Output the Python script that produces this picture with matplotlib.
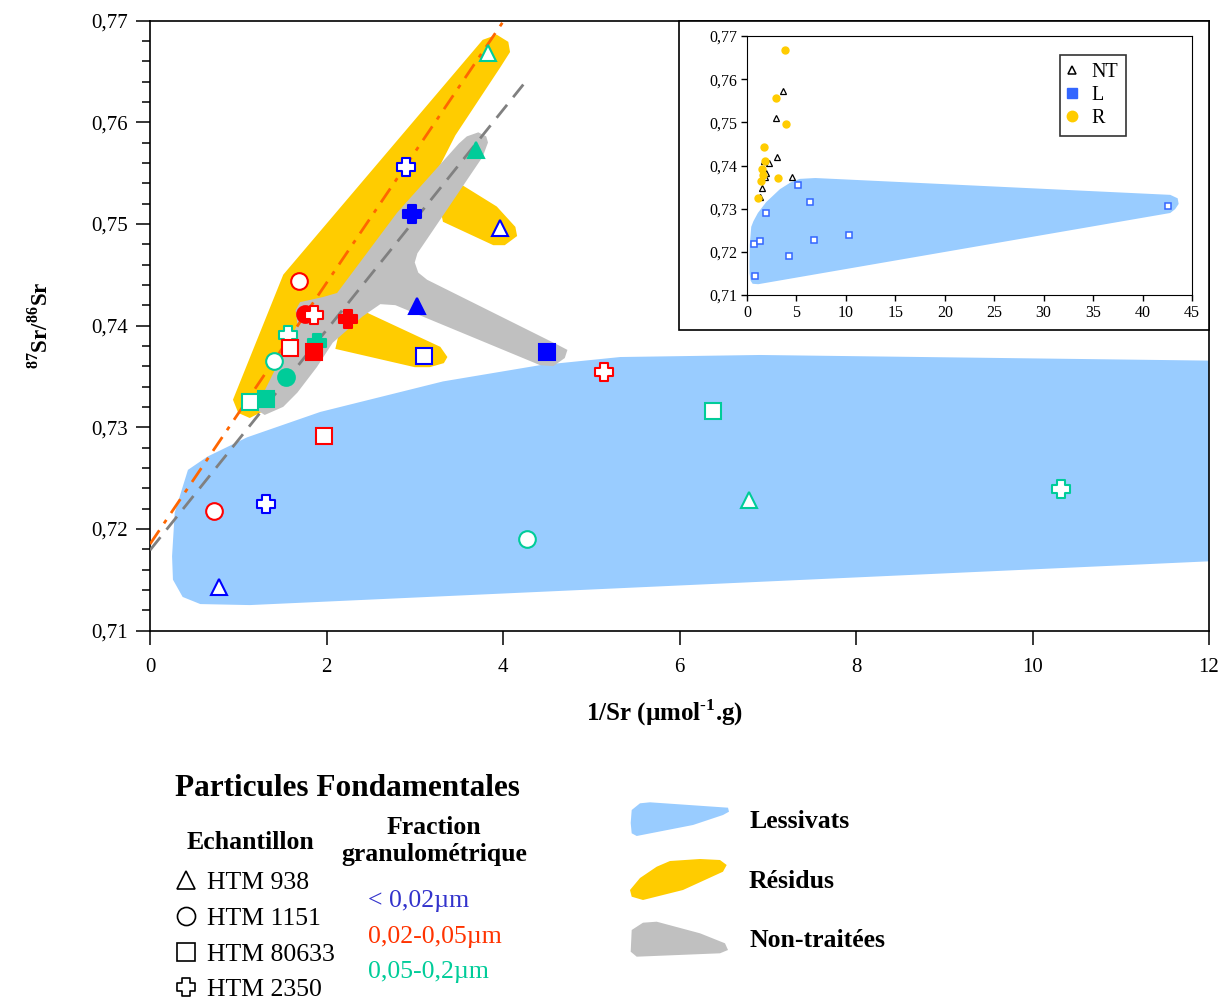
import numpy as np
import matplotlib
matplotlib.use('Agg')
import matplotlib.pyplot as plt
from matplotlib.path import Path
from matplotlib.patches import Polygon, Rectangle
from matplotlib.ticker import MultipleLocator, FuncFormatter
from matplotlib.lines import Line2D

plt.rcParams['font.family'] = ['Liberation Serif', 'DejaVu Serif']
plt.rcParams['mathtext.fontset'] = 'custom'
plt.rcParams['mathtext.rm'] = 'Liberation Serif'
plt.rcParams['mathtext.bf'] = 'Liberation Serif:bold'

# ---------------- data ----------------
samples = ['HTM 938', 'HTM 1151', 'HTM 80633', 'HTM 2350']
fractions = ['< 0,02µm', '0,02-0,05µm', '0,05-0,2µm']
groups = ['Lessivats', 'Résidus', 'Non-traitées']

# lessivats (L) : open markers
l_x = [0.78, 0.73, 1.31, 1.97, 4.27, 5.14, 6.38, 6.79, 10.32, 42.6]
l_y = [0.7143, 0.7218, 0.7224, 0.7291, 0.7190, 0.7354, 0.7316, 0.7228, 0.7239, 0.7307]
l_sample = [0, 1, 3, 2, 1, 3, 2, 0, 3, 2]
l_frac = [0, 1, 0, 1, 2, 1, 2, 2, 2, 0]

# residus (R) : open markers
r_x = [3.83, 2.90, 3.97, 1.69, 1.86, 1.56, 1.59, 1.40, 3.11, 1.13]
r_y = [0.7668, 0.7556, 0.7496, 0.7444, 0.7410, 0.7391, 0.7378, 0.7365, 0.7370, 0.7325]
r_sample = [0, 3, 0, 1, 3, 3, 2, 1, 2, 2]
r_frac = [2, 0, 0, 1, 1, 2, 1, 2, 0, 2]

# non-traitees (NT) : filled markers
nt_x = [3.69, 2.97, 3.02, 2.24, 1.76, 1.89, 1.86, 4.50, 1.54, 1.32]
nt_y = [0.7573, 0.7510, 0.7419, 0.7406, 0.7411, 0.7383, 0.7374, 0.7374, 0.7349, 0.7328]
nt_sample = [0, 3, 0, 3, 1, 3, 2, 2, 1, 2]
nt_frac = [2, 0, 0, 1, 1, 2, 1, 0, 2, 2]

# envelopes (data units)
less_env_x = [0.43, 0.65, 1.10, 1.93, 3.32, 4.42, 5.33, 6.91, 42.8, 43.55, 43.65, 43.3, 42.8,
              1.13, 0.57, 0.37, 0.26, 0.25, 0.28]
less_env_y = [0.7258, 0.7271, 0.7290, 0.7315, 0.7345, 0.7361, 0.7369, 0.7371, 0.7332, 0.7324,
              0.7311, 0.7299, 0.7290, 0.7125, 0.7126, 0.7133, 0.7150, 0.7173, 0.7216]

res_env_x = [0.94, 1.00, 1.13, 1.36, 2.27, 3.29, 3.46, 3.97, 4.08, 4.06, 3.93, 3.77, 1.51]
res_env_y = [0.7327, 0.7314, 0.7309, 0.7319, 0.7425, 0.7558, 0.7587, 0.7654, 0.7669,
             0.7679, 0.7686, 0.7681, 0.7450]
res_arm1_x = [3.40, 3.54, 3.93, 4.14, 4.16, 4.02, 3.89, 3.32, 3.29]
res_arm1_y = [0.7528, 0.7538, 0.7517, 0.7497, 0.7488, 0.7479, 0.7479, 0.7502, 0.7514]
res_arm2_x = [2.15, 2.45, 3.29, 3.37, 3.33, 3.17, 3.00, 2.10]
res_arm2_y = [0.7396, 0.7413, 0.7379, 0.7369, 0.7363, 0.7359, 0.7359, 0.7377]

nt_env_x = [1.21, 1.30, 1.51, 1.67, 1.89, 2.07, 2.41, 2.61, 2.78, 4.42, 4.57, 4.70, 4.73, 4.62,
            3.14, 3.04, 3.00, 3.03, 3.21, 3.77, 3.83, 3.81, 3.72, 3.59, 3.50, 2.80, 2.12, 1.96,
            1.70, 1.65, 1.67, 1.22]
nt_env_y = [0.7317, 0.7312, 0.7320, 0.7334, 0.7359, 0.7383, 0.7409, 0.7421, 0.7420, 0.7361,
            0.7360, 0.7368, 0.7376, 0.7381, 0.7445, 0.7452, 0.7462, 0.7471, 0.7494, 0.7566,
            0.7580, 0.7586, 0.7590, 0.7586, 0.7579, 0.7511, 0.7432, 0.7428, 0.7423, 0.7415,
            0.7401, 0.7322]

# mixing lines
res_line_x = [0.0, 4.01]
res_line_y = [0.7185, 0.7700]
nt_line_x = [0.0, 4.23]
nt_line_y = [0.7179, 0.7637]

# ---------------- styles ----------------
frac_colors = ['#0000FF', '#FF0000', '#00CC99']
text_colors = ['#3333CC', '#FF3300', '#00CC99']
a, b = 0.24, 0.5
cross = Path([(-a, -b), (a, -b), (a, -a), (b, -a), (b, a), (a, a), (a, b), (-a, b),
              (-a, a), (-b, a), (-b, -a), (-a, -a), (-a, -b)], closed=True)
sample_markers = ['^', 'o', 's', cross]
sample_ms = [12, 12, 12, 12.5]
col_less, col_res, col_nt = '#99CCFF', '#FFCC00', '#C0C0C0'

W, H = 1228, 999
fig = plt.figure(figsize=(W / 100, H / 100), dpi=100)


def fx(px):
    return px / W


def fy(py):
    return 1 - py / H


comma = FuncFormatter(lambda v, p: f'{v:.2f}'.replace('.', ','))

ax = fig.add_axes([fx(150), fy(630.5), fx(1209) - fx(150), fy(20.5) - fy(630.5)])
ax.set_xlim(0, 12)
ax.set_ylim(0.71, 0.77)

ax.fill(less_env_x, less_env_y, color=col_less, lw=0, zorder=1)
ax.fill(res_env_x, res_env_y, color=col_res, lw=0, zorder=2)
ax.fill(res_arm1_x, res_arm1_y, color=col_res, lw=0, zorder=2)
ax.fill(res_arm2_x, res_arm2_y, color=col_res, lw=0, zorder=2)
ax.fill(nt_env_x, nt_env_y, color=col_nt, lw=0, zorder=3)

ax.plot(res_line_x, res_line_y, color='#FF6600', lw=2, ls=(0, (6, 3, 1.5, 3)), zorder=4)
ax.plot(nt_line_x, nt_line_y, color='#808080', lw=2, ls=(0, (6, 3.5)), zorder=4)


def draw(xs, ys, smp, frc, filled):
    for x, y, s, f in zip(xs, ys, smp, frc):
        c = frac_colors[f]
        ax.plot(x, y, marker=sample_markers[s], ms=sample_ms[s], ls='none',
                mfc=c if filled else 'white', mec=c, mew=1.5, zorder=5)


draw(l_x, l_y, l_sample, l_frac, False)
draw(nt_x, nt_y, nt_sample, nt_frac, True)
draw(r_x, r_y, r_sample, r_frac, False)

ax.xaxis.set_major_locator(MultipleLocator(2))
ax.yaxis.set_major_locator(MultipleLocator(0.01))
ax.yaxis.set_minor_locator(MultipleLocator(0.002))
ax.yaxis.set_major_formatter(comma)
ax.tick_params(axis='both', which='major', direction='out', length=10, width=1.1,
               labelsize=15, pad=6)
ax.tick_params(axis='y', which='minor', direction='out', length=5.5, width=1.1)
ax.tick_params(axis='x', pad=10)
for sp in ax.spines.values():
    sp.set_linewidth(1.2)

fig.text(fx(665), fy(721), '1/Sr (µmol$^{\\mathbf{\u20101}}$.g)', ha='center', va='baseline',
         fontsize=18, fontweight='bold')
fig.text(fx(40), fy(325), '$^{\\mathbf{87}}$Sr/$^{\\mathbf{86}}$Sr', ha='center', va='center',
         rotation=90, fontsize=16.5, fontweight='bold')

# ---------------- inset ----------------
fig.patches.append(Rectangle((fx(679), fy(330)), fx(1209) - fx(679), fy(20.5) - fy(330),
                             transform=fig.transFigure, facecolor='white', edgecolor='black',
                             lw=1.2, zorder=1))
axi = fig.add_axes([fx(747), fy(295), fx(1192) - fx(747), fy(36) - fy(295)])
axi.set_zorder(2)
axi.set_xlim(0, 45)
axi.set_ylim(0.71, 0.77)
axi.fill(less_env_x, less_env_y, color=col_less, lw=0, zorder=1)
axi.plot(nt_x, nt_y, ls='none', marker='^', ms=4.5, mfc='white', mec='black', mew=0.9, zorder=3)
axi.plot(l_x, l_y, ls='none', marker='s', ms=4.5, mfc='white', mec='#3366FF', mew=1.1, zorder=3)
axi.plot(r_x, r_y, ls='none', marker='o', ms=5, mfc='#FFCC00', mec='#FFCC00', zorder=3)
axi.xaxis.set_major_locator(MultipleLocator(5))
axi.yaxis.set_major_locator(MultipleLocator(0.01))
axi.yaxis.set_major_formatter(comma)
axi.tick_params(direction='out', length=4, width=1, labelsize=11.5, pad=3)
handles = [Line2D([], [], ls='none', marker='^', ms=6, mfc='white', mec='black', mew=1.1),
           Line2D([], [], ls='none', marker='s', ms=7, mfc='#3366FF', mec='#3366FF'),
           Line2D([], [], ls='none', marker='o', ms=7.5, mfc='#FFCC00', mec='#FFCC00')]
leg = axi.legend(handles, ['NT', 'L', 'R'], loc='upper left', bbox_to_anchor=(fx(1060), fy(55)),
                 bbox_transform=fig.transFigure, fontsize=14.5, frameon=True, fancybox=False,
                 edgecolor='black', borderpad=0.4, labelspacing=0.2, handlelength=0.4,
                 handletextpad=0.75, borderaxespad=0)
leg.get_frame().set_linewidth(1.2)

# ---------------- legend block ----------------
fig.text(fx(347), fy(796), 'Particules Fondamentales', ha='center', va='baseline',
         fontsize=22.5, fontweight='bold')
fig.text(fx(250), fy(849), 'Echantillon', ha='center', va='baseline', fontsize=18.5,
         fontweight='bold')
fig.text(fx(434), fy(834), 'Fraction', ha='center', va='baseline', fontsize=18.5,
         fontweight='bold')
fig.text(fx(434), fy(861), 'granulométrique', ha='center', va='baseline', fontsize=18.5,
         fontweight='bold')

sample_rows = [889, 925, 961, 996]
for i, name in enumerate(samples):
    fig.add_artist(Line2D([fx(186)], [fy(sample_rows[i] - 9)], transform=fig.transFigure,
                          ls='none', marker=sample_markers[i], ms=13, mfc='white',
                          mec='black', mew=1.2))
    fig.text(fx(207), fy(sample_rows[i]), name, ha='left', va='baseline', fontsize=18.5)

frac_rows = [907, 943, 978]
for i, name in enumerate(fractions):
    fig.text(fx(368), fy(frac_rows[i]), name, ha='left', va='baseline', fontsize=18.5,
             color=text_colors[i])

swatch_less = [(631.7, 810), (640, 803.3), (650, 802.3), (728, 807.7), (729, 811.7), (723, 815),
               (693, 825), (636.7, 836), (631.7, 833.3), (630.7, 823)]
swatch_res = [(630, 890), (631.7, 896.7), (643, 900), (683, 890), (723, 871.7), (726.7, 865),
              (720, 860), (700, 859), (670, 861), (656.7, 866.7), (640, 878)]
swatch_nt = [(631.7, 930), (643, 922.7), (656.7, 921.7), (700, 933.3), (725, 943.3),
             (728, 950), (720, 953.3), (636.7, 956.7), (630.7, 951.7)]
group_rows = [828, 888, 947]
for sw, col, name, row in zip([swatch_less, swatch_res, swatch_nt], [col_less, col_res, col_nt],
                              groups, group_rows):
    fig.patches.append(Polygon([(fx(p), fy(q)) for p, q in sw], closed=True,
                               transform=fig.transFigure, facecolor=col, lw=0))
    fig.text(fx(749), fy(row), name, ha='left', va='baseline', fontsize=18.5,
             fontweight='bold')

fig.savefig('out.png', dpi=100)
